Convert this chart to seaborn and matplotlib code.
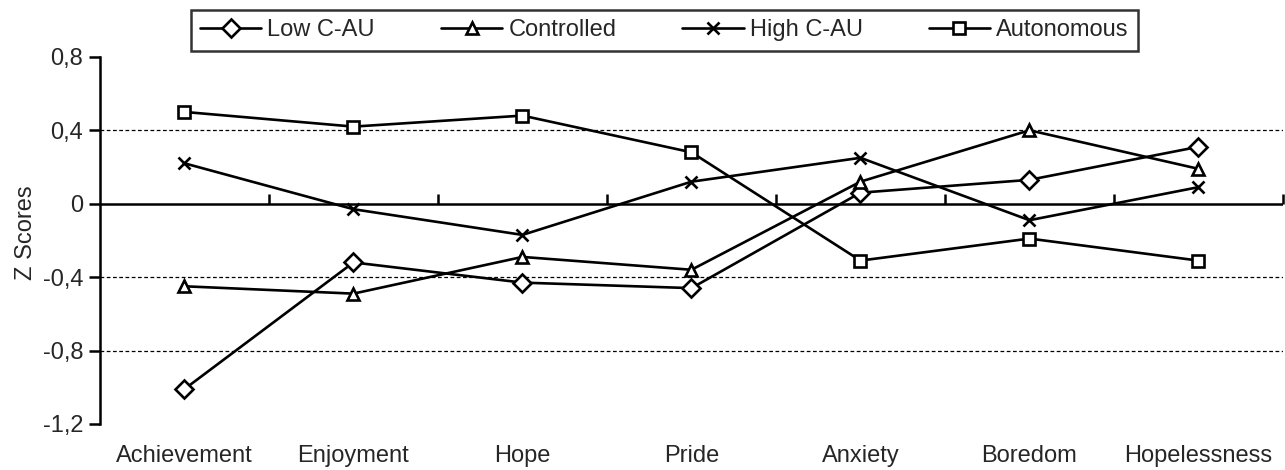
import numpy as np
import pandas as pd
import matplotlib
matplotlib.use("Agg")
import matplotlib.pyplot as plt
import seaborn as sns
from matplotlib.ticker import FuncFormatter

sns.set_style("white")
plt.rcParams["font.family"] = ["Liberation Sans", "DejaVu Sans"]
plt.rcParams["font.size"] = 17

emotions = ["Achievement", "Enjoyment", "Hope", "Pride", "Anxiety", "Boredom", "Hopelessness"]
groups = ["Low C-AU", "Controlled", "High C-AU", "Autonomous"]

low_cau    = [-1.01, -0.32, -0.43, -0.46, 0.06, 0.13, 0.31]
controlled = [-0.45, -0.49, -0.29, -0.36, 0.12, 0.40, 0.19]
high_cau   = [0.22, -0.03, -0.17, 0.12, 0.25, -0.09, 0.09]
autonomous = [0.50, 0.42, 0.48, 0.28, -0.31, -0.19, -0.31]

series = {
    "Low C-AU": low_cau,
    "Controlled": controlled,
    "High C-AU": high_cau,
    "Autonomous": autonomous,
}
rows = []
for g in groups:
    for i, (emo, v) in enumerate(zip(emotions, series[g])):
        rows.append({"pos": i + 0.5, "emotion": emo, "group": g, "z": v})
df = pd.DataFrame(rows)

marker_map = {"Low C-AU": "D", "Controlled": "^", "High C-AU": "x", "Autonomous": "s"}
size_map = {"Low C-AU": 9, "Controlled": 11, "High C-AU": 11, "Autonomous": 10.5}

fig = plt.figure(figsize=(12.85, 4.70), dpi=100)
ax = fig.add_axes([0.0778, 0.098, 0.9206, 0.781])

for g in groups:
    sns.lineplot(
        data=df[df["group"] == g], x="pos", y="z", color="black",
        marker=marker_map[g], markersize=size_map[g], label=g,
        linewidth=1.9, markerfacecolor="white", markeredgecolor="black",
        markeredgewidth=1.9, ax=ax, zorder=3,
    )

ax.set_xlim(0, 7)
ax.set_ylim(-1.2, 0.8)
ax.set_yticks([-1.2, -0.8, -0.4, 0, 0.4, 0.8])
ax.yaxis.set_major_formatter(
    FuncFormatter(lambda v, p: "0" if abs(v) < 1e-9 else f"{v:.1f}".replace(".", ","))
)
ax.set_xticks(np.arange(len(emotions)) + 0.5)
ax.set_xticklabels(emotions)
ax.tick_params(axis="x", length=0, pad=15, labelsize=17)
ax.tick_params(axis="y", direction="out", length=8, width=1.8, color="black",
               labelsize=17, left=True, pad=4)

for s in ["top", "right", "bottom"]:
    ax.spines[s].set_visible(False)
ax.spines["left"].set_color("black")
ax.spines["left"].set_linewidth(1.8)

ax.yaxis.grid(True, linestyle=(0, (3, 2)), color="black", linewidth=0.9)
ax.xaxis.grid(False)
grid_lines = ax.get_ygridlines()
for i in (0, 3, 5):
    grid_lines[i].set_visible(False)

# zero axis with category separators
ax.axhline(0, color="black", linewidth=1.8, zorder=2)
zero_axis = ax.secondary_xaxis(0.6)
zero_axis.set_xticks(np.arange(1, 8))
zero_axis.set_xticklabels([])
zero_axis.tick_params(direction="out", length=7, width=1.8, color="black")
for s in ["top", "bottom", "left", "right"]:
    zero_axis.spines[s].set_visible(False)

ax.set_xlabel("")
ax.set_ylabel("Z Scores", fontsize=17)
ax.yaxis.set_label_coords(-0.053, 0.52)

handles, labels = ax.get_legend_handles_labels()
if ax.get_legend() is not None:
    ax.get_legend().remove()
for h in handles:
    h.set_markersize(9)
leg = fig.legend(
    handles, labels, ncol=4, loc="upper center", bbox_to_anchor=(0.517, 0.979),
    frameon=True, fancybox=False, edgecolor="black", fontsize=17,
    handlelength=2.6, columnspacing=2.8, handletextpad=0.25, borderpad=0.4,
    borderaxespad=0,
)
leg.get_frame().set_linewidth(1.8)

fig.savefig("out.png", dpi=100)
